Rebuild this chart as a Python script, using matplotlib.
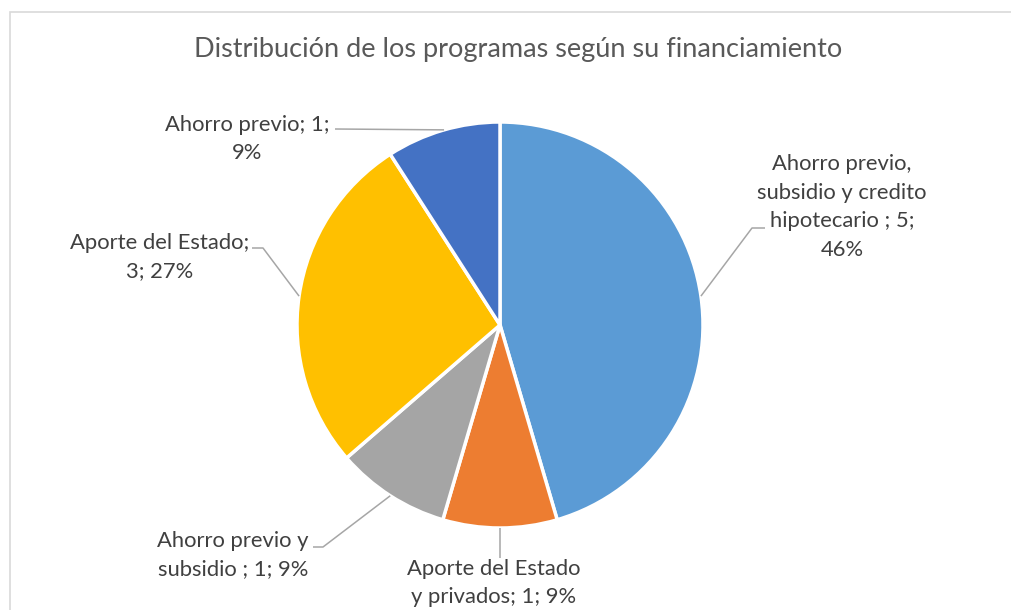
import numpy as np
import matplotlib
matplotlib.use("Agg")
import matplotlib.pyplot as plt
from matplotlib.patches import Rectangle

# ---- data ----
categories = [
    "Ahorro previo,\nsubsidio y credito\nhipotecario ; 5;\n46%",
    "Aporte del Estado\ny privados; 1; 9%",
    "Ahorro previo y\nsubsidio ; 1; 9%",
    "Aporte del Estado;\n3; 27%",
    "Ahorro previo; 1;\n9%",
]
values = [5, 1, 1, 3, 1]
colors = ["#5B9BD5", "#ED7D31", "#A5A5A5", "#FFC000", "#4472C4"]
title = "Distribución de los programas según su financiamiento"

W, H = 1011, 610
FONT = "Lato"

fig = plt.figure(figsize=(W / 100, H / 100), dpi=100)
ax = fig.add_axes([0, 0, 1, 1])

def py(y):
    return H - y

cx, cy, r = 500, py(325), 203
wedges, _ = ax.pie(values, colors=colors, startangle=90, counterclock=False,
                   center=(cx, cy), radius=r, frame=True,
                   wedgeprops=dict(edgecolor="white", linewidth=2.5))
ax.set_xlim(0, W)
ax.set_ylim(0, H)
ax.set_aspect("auto")
ax.axis("off")

# chart border
ax.add_patch(Rectangle((10, py(1000)), 1100, py(12) - py(1000), fill=False,
                       edgecolor="#D9D9D9", linewidth=1.2))

ax.text(518, py(50), title, ha="center", va="center", fontsize=19.5,
        color="#595959", family=FONT)

# label positions (pixel coords) and leader elbow points
label_pos = [(842, 207), (494, 583), (233, 555), (160, 257), (247, 139)]
elbows = [[(752, 228), (765, 228)],
          [(500, 558)],
          [(323, 547), (313, 547)],
          [(263, 248), (252, 248)],
          [(335, 129)]]
# angle (deg) where each leader touches the pie edge; None = wedge middle
touch = [None, None, None, None, 106]

tc = "#404040"
lc = "#A6A6A6"
for i, w in enumerate(wedges):
    a = touch[i] if touch[i] is not None else (w.theta1 + w.theta2) / 2
    ang = np.deg2rad(a)
    ex, ey = cx + r * np.cos(ang), cy + r * np.sin(ang)
    xs = [ex] + [p[0] for p in elbows[i]]
    ys = [ey] + [py(p[1]) for p in elbows[i]]
    ax.plot(xs, ys, color=lc, linewidth=1.1, solid_capstyle="butt")
    lx, ly = label_pos[i]
    ax.text(lx, py(ly), categories[i], ha="center", va="center",
            fontsize=15.8, color=tc, family=FONT, linespacing=1.55)

fig.savefig("out.png", dpi=100)
